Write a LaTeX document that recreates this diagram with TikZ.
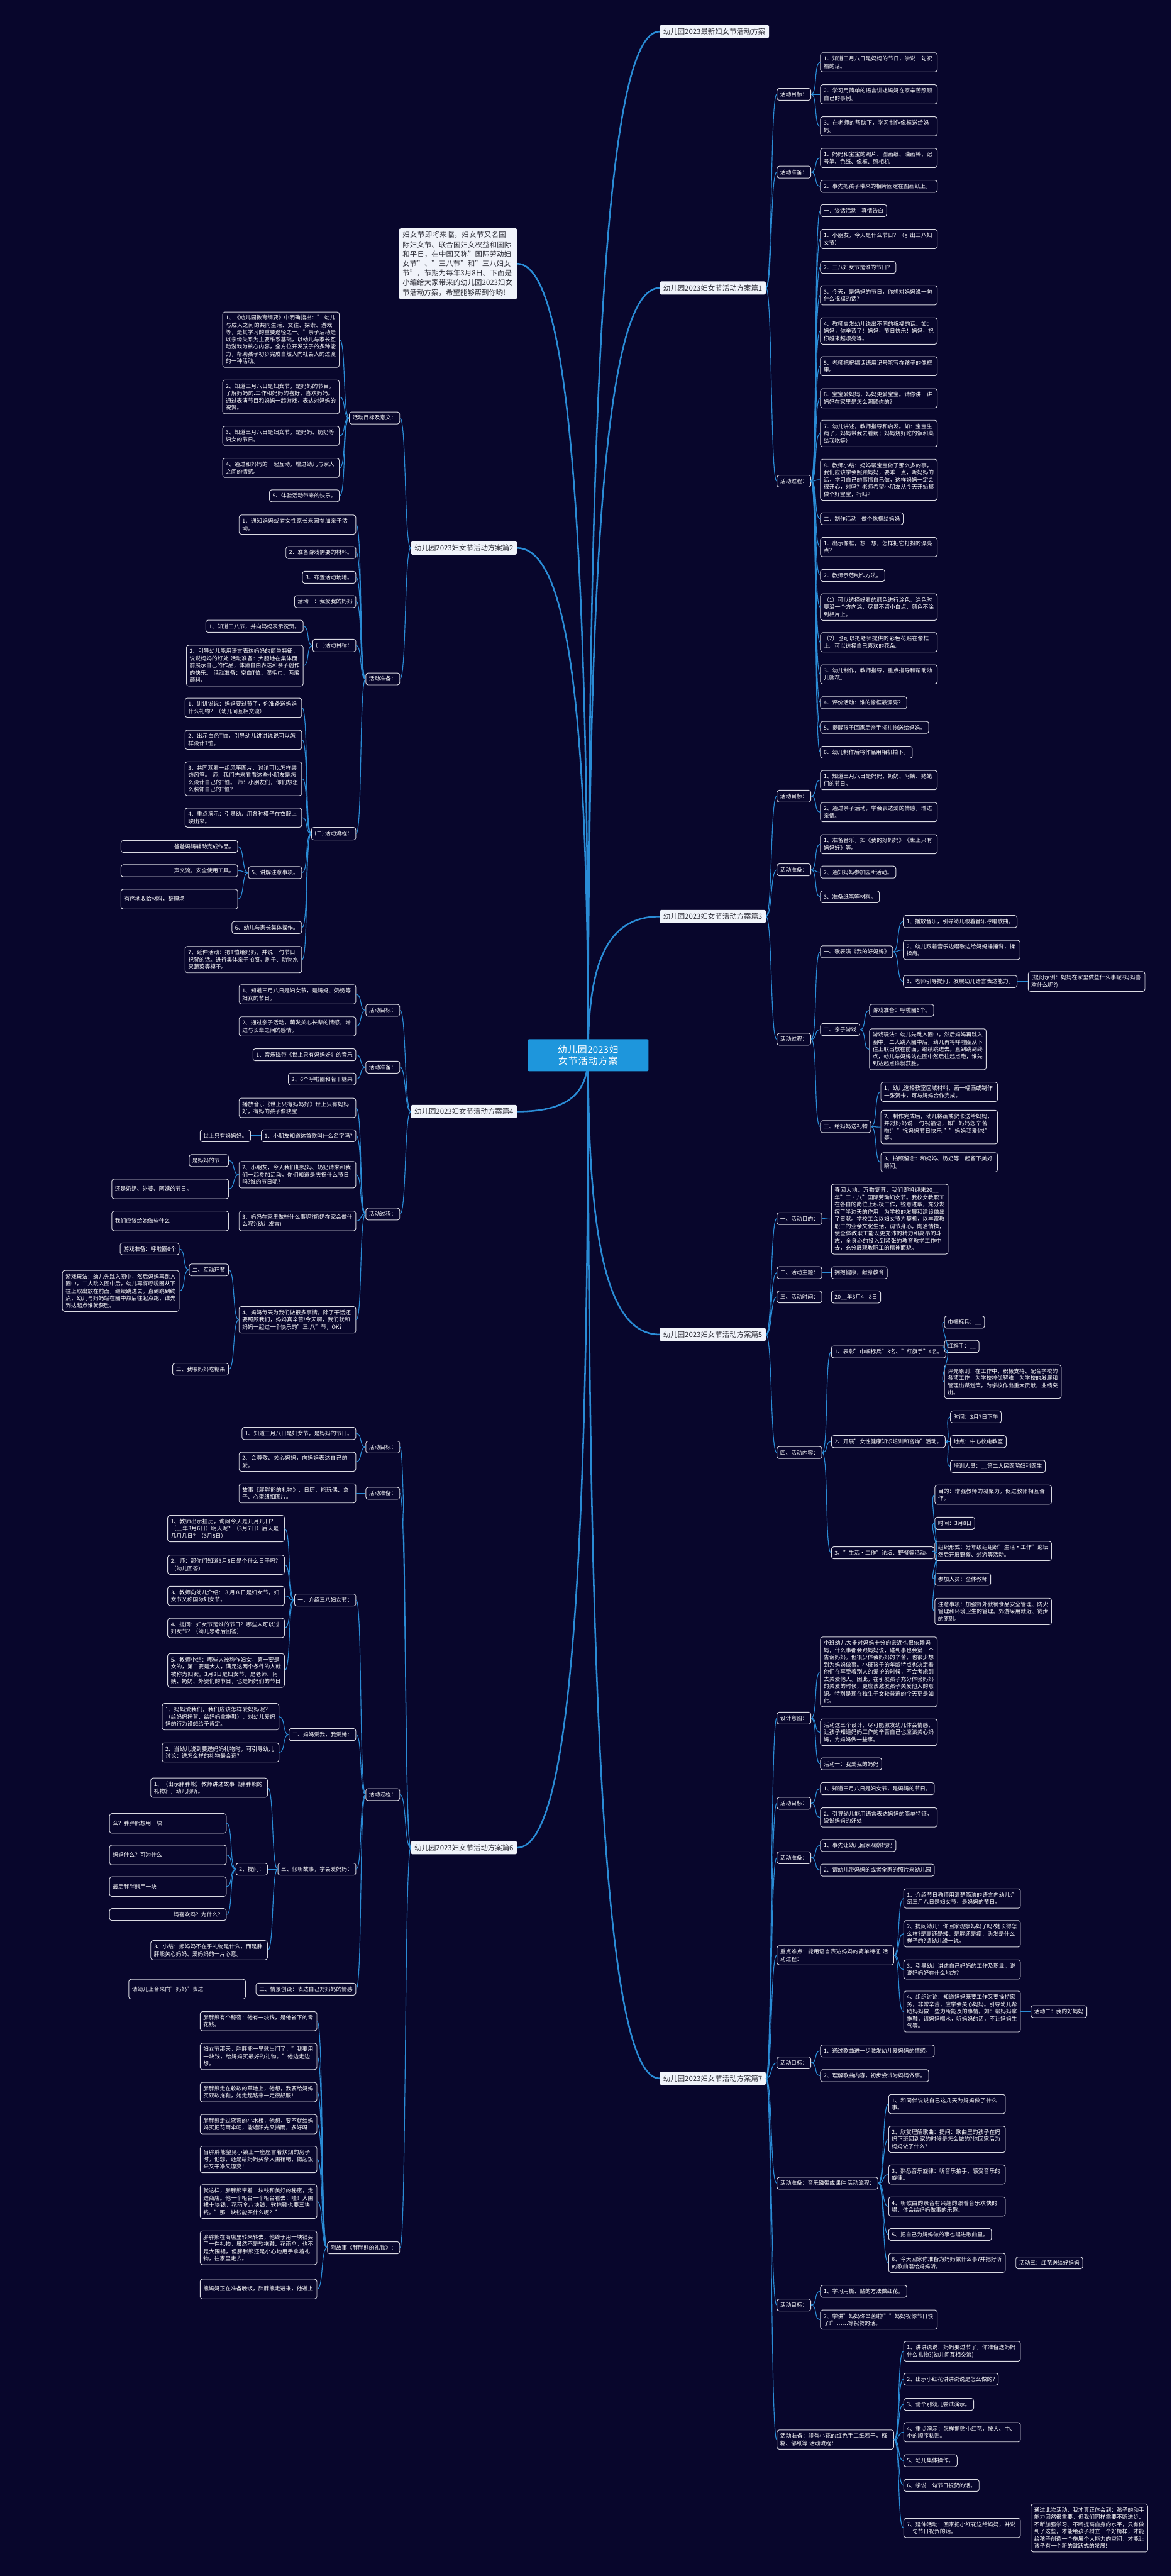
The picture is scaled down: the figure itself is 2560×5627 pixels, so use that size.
\documentclass[tikz,border=0pt]{standalone}
\usepackage{fontspec}
\setmainfont{Noto Sans CJK SC}
\XeTeXlinebreaklocale "zh"
\XeTeXlinebreakskip=0pt plus 1pt
\definecolor{bgnavy}{RGB}{8,6,44}
\definecolor{linkblue}{RGB}{42,140,214}
\definecolor{rootblue}{RGB}{30,150,220}
\definecolor{headfill}{RGB}{240,243,250}
\definecolor{headtext}{RGB}{45,45,55}
\definecolor{boxline}{RGB}{218,218,226}
\newcommand\leaffont{\fontsize{12}{15.8}\selectfont}
\newcommand\headfont{\fontsize{15.7}{20.9}\selectfont}
\newcommand\rootfont{\fontsize{20.5}{25}\selectfont}
\tikzset{
  tagbox/.style={draw=boxline, line width=1.3pt, rounded corners=5pt, fill=bgnavy,
    text=white, font=\leaffont, inner xsep=7pt, inner ysep=7.5pt, align=left},
  leafbox/.style={tagbox, text width=241pt},
  twoline/.style={minimum height=43pt},
  headbox/.style={fill=headfill, text=headtext, font=\headfont, rounded corners=4pt,
    inner xsep=8pt, inner ysep=7pt},
  rootbox/.style={fill=rootblue, text=white, font=\rootfont, rounded corners=3pt,
    text width=242pt, align=center, inner xsep=11pt, inner ysep=13pt},
  twig/.style={draw=linkblue, line width=1.6pt},
  trunk/.style={draw=linkblue, line width=3.5pt},
}
\newcommand\rlink[2]{\draw[twig] (#1.east) .. controls +(14,0) and +(-14,0) .. (#2.west);}
\newcommand\llink[2]{\draw[twig] (#1.west) .. controls +(-14,0) and +(14,0) .. (#2.east);}
\begin{document}
\begin{tikzpicture}[x=1pt,y=-1pt]
  \fill[bgnavy] (0,0) rectangle (2560,5627);
  \useasboundingbox (0,0) rectangle (2560,5627);

  % titles round the centre
  \coordinate (hub) at (1285,2305);
  \node[headbox, anchor=west] (pian0) at (1441,69) {幼儿园2023最新妇女节活动方案};
  \node[headbox, anchor=west] (pian1) at (1441,629) {幼儿园2023妇女节活动方案篇1};
  \node[headbox, anchor=west] (pian3) at (1441,2002) {幼儿园2023妇女节活动方案篇3};
  \node[headbox, anchor=west] (pian5) at (1441,2915) {幼儿园2023妇女节活动方案篇5};
  \node[headbox, anchor=west] (pian7) at (1441,4540) {幼儿园2023妇女节活动方案篇7};
  \node[headbox, anchor=east, text width=242pt, align=left] (intro) at (1130,576)
    {妇女节即将来临，妇女节又名国际妇女节、联合国妇女权益和国际和平日，在中国又称"国际劳动妇女节"、"三八节"和"三八妇女节"，节期为每年3月8日。下面是小编给大家带来的幼儿园2023妇女节活动方案，希望能够帮到你哟!};
  \node[headbox, anchor=east] (pian2) at (1130,1197) {幼儿园2023妇女节活动方案篇2};
  \node[headbox, anchor=east] (pian4) at (1130,2428) {幼儿园2023妇女节活动方案篇4};
  \node[headbox, anchor=east] (pian6) at (1130,4036) {幼儿园2023妇女节活动方案篇6};

  \draw[trunk] (hub) .. controls +(0,-1453) and +(-117,0) .. (pian0.west);
  \draw[trunk] (hub) .. controls +(0,-1089) and +(-117,0) .. (pian1.west);
  \draw[trunk] (hub) .. controls +(0,-197) and +(-117,0) .. (pian3.west);
  \draw[trunk] (hub) .. controls +(0,396) and +(-117,0) .. (pian5.west);
  \draw[trunk] (hub) .. controls +(0,1453) and +(-117,0) .. (pian7.west);
  \draw[trunk] (hub) .. controls +(0,-1124) and +(116,0) .. (intro.east);
  \draw[trunk] (hub) .. controls +(0,-720) and +(116,0) .. (pian2.east);
  \draw[trunk] (hub) .. controls +(0,80) and +(116,0) .. (pian4.east);
  \draw[trunk] (hub) .. controls +(0,1125) and +(116,0) .. (pian6.east);
  \node[rootbox] (root) at (hub) {幼儿园2023妇女节活动方案};

  % 篇1
  \node[tagbox, anchor=west] (p1mb) at (1697,206) {活动目标：};
  \node[leafbox, anchor=west] (p1mb1) at (1792,136) {1．知道三月八日是妈妈的节日，学说一句祝福的话。};
  \node[leafbox, anchor=west] (p1mb2) at (1792,206) {2．学习用简单的语言讲述妈妈在家辛苦照顾自己的事例。};
  \node[leafbox, anchor=west] (p1mb3) at (1792,276) {3．在老师的帮助下，学习制作像框送给妈妈。};
  \node[tagbox, anchor=west] (p1zb) at (1697,376) {活动准备：};
  \node[leafbox, anchor=west] (p1zb1) at (1792,345) {1．妈妈和宝宝的照片、图画纸、油画棒、记号笔、色纸、像框、照相机};
  \node[leafbox, anchor=west] (p1zb2) at (1792,407) {2．事先把孩子带来的相片固定在图画纸上。};
  \node[tagbox, anchor=west] (p1gc) at (1697,1051) {活动过程：};
  \node[tagbox, anchor=west] (p1gc1) at (1792,460) {一．谈话活动—真情告白};
  \node[leafbox, anchor=west] (p1gc2) at (1792,522) {1．小朋友，今天是什么节日？（引出三八妇女节）};
  \node[tagbox, anchor=west] (p1gc3) at (1792,584) {2．三八妇女节是谁的节日？};
  \node[leafbox, anchor=west] (p1gc4) at (1792,645) {3．今天，是妈妈的节日，你想对妈妈说一句什么祝福的话？};
  \node[leafbox, anchor=west] (p1gc5) at (1792,723) {4．教师启发幼儿说出不同的祝福的话。如：妈妈，你辛苦了！妈妈，节日快乐！妈妈，祝你越来越漂亮等。};
  \node[leafbox, anchor=west] (p1gc6) at (1792,800) {5．老师把祝福话语用记号笔写在孩子的像框里。};
  \node[leafbox, anchor=west] (p1gc7) at (1792,870) {6．宝宝爱妈妈，妈妈更爱宝宝。请你讲一讲妈妈在家里是怎么照顾你的？};
  \node[leafbox, anchor=west] (p1gc8) at (1792,947) {7．幼儿讲述，教师指导和启发。如：宝宝生病了，妈妈带我去看病；妈妈烧好吃的饭和菜给我吃等）};
  \node[leafbox, anchor=west] (p1gc9) at (1792,1048) {8．教师小结：妈妈帮宝宝做了那么多的事，我们应该学会照顾妈妈，要乖一点，听妈妈的话，学习自己的事情自己做，这样妈妈一定会很开心，对吗？老师希望小朋友从今天开始都做个好宝宝，行吗？};
  \node[tagbox, anchor=west] (p1gc10) at (1792,1133) {二．制作活动—做个像框给妈妈};
  \node[leafbox, anchor=west] (p1gc11) at (1792,1195) {1．出示像框，想一想，怎样把它打扮的漂亮点？};
  \node[tagbox, anchor=west] (p1gc12) at (1792,1257) {2．教师示范制作方法。};
  \node[leafbox, anchor=west] (p1gc13) at (1792,1326) {（1）可以选择好看的颜色进行涂色。涂色时要沿一个方向涂，尽量不留小白点，颜色不涂到相片上。};
  \node[leafbox, anchor=west] (p1gc14) at (1792,1403) {（2）也可以把老师提供的彩色花贴在像框上。可以选择自己喜欢的花朵。};
  \node[leafbox, anchor=west] (p1gc15) at (1792,1473) {3．幼儿制作，教师指导，重点指导和帮助幼儿贴花。};
  \node[tagbox, anchor=west] (p1gc16) at (1792,1535) {4．评价活动：谁的像框最漂亮？};
  \node[tagbox, anchor=west] (p1gc17) at (1792,1589) {5．提醒孩子回家后亲手将礼物送给妈妈。};
  \node[tagbox, anchor=west] (p1gc18) at (1792,1643) {6．幼儿制作后将作品用相机拍下。};
  \foreach \n in {p1mb,p1zb,p1gc} {\rlink{pian1}{\n}}
  \foreach \i in {1,2,3} {\rlink{p1mb}{p1mb\i}}
  \foreach \i in {1,2} {\rlink{p1zb}{p1zb\i}}
  \foreach \i in {1,...,18} {\rlink{p1gc}{p1gc\i}}

  % 篇3
  \node[tagbox, anchor=west] (p3mb) at (1697,1739) {活动目标：};
  \node[leafbox, anchor=west] (p3mb1) at (1792,1704) {1、知道三月八日是妈妈、奶奶、阿姨、姥姥们的节日。};
  \node[leafbox, anchor=west] (p3mb2) at (1792,1774) {2、通过亲子活动，学会表达爱的情感，增进亲情。};
  \node[tagbox, anchor=west] (p3zb) at (1697,1900) {活动准备：};
  \node[leafbox, anchor=west] (p3zb1) at (1792,1844) {1、准备音乐，如《我的好妈妈》《世上只有妈妈好》等。};
  \node[tagbox, anchor=west] (p3zb2) at (1792,1905) {2、通知妈妈参加园所活动。};
  \node[tagbox, anchor=west] (p3zb3) at (1792,1959) {3、准备纸笔等材料。};
  \node[tagbox, anchor=west] (p3gc) at (1697,2270) {活动过程：};
  \node[tagbox, anchor=west] (p3ge) at (1792,2079) {一、歌表演《我的好妈妈》};
  \node[tagbox, anchor=west] (p3ge1) at (1973,2013) {1、播放音乐，引导幼儿跟着音乐哼唱歌曲。};
  \node[leafbox, anchor=west] (p3ge2) at (1973,2075) {2、幼儿跟着音乐边唱歌边给妈妈捶捶背，揉揉肩。};
  \node[tagbox, anchor=west] (p3ge3) at (1973,2144) {3、老师引导提问，发展幼儿语言表达能力。};
  \node[leafbox, anchor=west] (p3ge4) at (2246,2144) {(提问示例：妈妈在家里做些什么事呢?妈妈喜欢什么呢?)};
  \node[tagbox, anchor=west] (p3yx) at (1792,2249) {二、亲子游戏};
  \node[tagbox, anchor=west] (p3yx1) at (1899,2207) {游戏准备：呼啦圈6个。};
  \node[leafbox, anchor=west] (p3yx2) at (1899,2292) {游戏玩法：幼儿先跳入圈中，然后妈妈再跳入圈中，二人跳入圈中后，幼儿再将呼啦圈从下往上取出放在前面，继续跳进去。直到跳到终点，幼儿与妈妈站在圈中然后往起点跑，谁先到达起点谁就获胜。};
  \node[tagbox, anchor=west] (p3lw) at (1792,2461) {三、给妈妈送礼物};
  \node[leafbox, anchor=west] (p3lw1) at (1924,2385) {1、幼儿选择教室区域材料，画一幅画或制作一张贺卡，可与妈妈合作完成。};
  \node[leafbox, anchor=west] (p3lw2) at (1924,2462) {2、制作完成后，幼儿将画或贺卡送给妈妈，并对妈妈说一句祝福语，如"妈妈您辛苦啦!""祝妈妈节日快乐!""妈妈我爱你!"等。};
  \node[leafbox, anchor=west] (p3lw3) at (1924,2539) {3、拍照留念：和妈妈、奶奶等一起留下美好瞬间。};
  \foreach \n in {p3mb,p3zb,p3gc} {\rlink{pian3}{\n}}
  \foreach \i in {1,2} {\rlink{p3mb}{p3mb\i}}
  \foreach \i in {1,2,3} {\rlink{p3zb}{p3zb\i}}
  \foreach \n in {p3ge,p3yx,p3lw} {\rlink{p3gc}{\n}}
  \foreach \i in {1,2,3} {\rlink{p3ge}{p3ge\i}}
  \rlink{p3ge3}{p3ge4}
  \foreach \i in {1,2} {\rlink{p3yx}{p3yx\i}}
  \foreach \i in {1,2,3} {\rlink{p3lw}{p3lw\i}}

  % 篇5
  \node[tagbox, anchor=west] (p5md) at (1697,2662) {一、活动目的：};
  \node[leafbox, anchor=west] (p5md1) at (1816,2663) {春回大地，万物复苏，我们即将迎来20\_\_年"三·八"国际劳动妇女节。我校女教职工在各自的岗位上积极工作，锐意进取，充分发挥了半边天的作用，为学校的发展和建设做出了贡献。学校工会以妇女节为契机，以丰富教职工的业余文化生活，调节身心，陶冶情操，使全体教职工能以更充沛的精力和高昂的斗志，全身心的投入到紧张的教育教学工作中去，充分展现教职工的精神面貌。};
  \node[tagbox, anchor=west] (p5zt) at (1697,2780) {二、活动主题：};
  \node[tagbox, anchor=west] (p5zt1) at (1816,2780) {拥抱健康，献身教育};
  \node[tagbox, anchor=west] (p5sj) at (1697,2833) {三、活动时间：};
  \node[tagbox, anchor=west] (p5sj1) at (1816,2833) {20\_\_年3月4—8日};
  \node[tagbox, anchor=west] (p5nr) at (1697,3173) {四、活动内容：};
  \node[tagbox, anchor=west] (p5bz) at (1816,2953) {1、表彰"巾帼标兵"3名、"红旗手"4名。};
  \node[tagbox, anchor=west] (p5bz1) at (2063,2888) {巾帼标兵：\_\_};
  \node[tagbox, anchor=west] (p5bz2) at (2063,2941) {红旗手：\_\_};
  \node[leafbox, anchor=west] (p5bz3) at (2063,3018) {评先原则：在工作中，积极支持、配合学校的各项工作，为学校排优解难，为学校的发展和管理出谋划策，为学校作出重大贡献，业绩突出。};
  \node[tagbox, anchor=west] (p5px) at (1816,3149) {2、开展"女性健康知识培训和咨询"活动。};
  \node[tagbox, anchor=west] (p5px1) at (2076,3095) {时间：3月7日下午};
  \node[tagbox, anchor=west] (p5px2) at (2076,3149) {地点：中心校电教室};
  \node[tagbox, anchor=west] (p5px3) at (2076,3203) {培训人员：\_\_第二人民医院妇科医生};
  \node[tagbox, anchor=west] (p5lt) at (1816,3392) {3、"生活·工作"论坛、野餐等活动。};
  \node[leafbox, anchor=west] (p5lt1) at (2042,3265) {目的：增强教师的凝聚力，促进教师相互合作。};
  \node[tagbox, anchor=west] (p5lt2) at (2042,3327) {时间：3月8日};
  \node[leafbox, anchor=west] (p5lt3) at (2042,3388) {组织形式：分年级组组织"生活·工作"论坛然后开展野餐、郊游等活动。};
  \node[tagbox, anchor=west] (p5lt4) at (2042,3450) {参加人员：全体教师};
  \node[leafbox, anchor=west] (p5lt5) at (2042,3520) {注意事项：加强野外就餐食品安全管理、防火管理和环境卫生的管理。郊游采用就近、徒步的原则。};
  \foreach \n in {p5md,p5zt,p5sj,p5nr} {\rlink{pian5}{\n}}
  \rlink{p5md}{p5md1} \rlink{p5zt}{p5zt1} \rlink{p5sj}{p5sj1}
  \foreach \n in {p5bz,p5px,p5lt} {\rlink{p5nr}{\n}}
  \foreach \i in {1,2,3} {\rlink{p5bz}{p5bz\i} \rlink{p5px}{p5px\i}}
  \foreach \i in {1,...,5} {\rlink{p5lt}{p5lt\i}}

  % 篇7
  \node[tagbox, anchor=west] (p7yt) at (1697,3753) {设计意图：};
  \node[leafbox, anchor=west] (p7yt1) at (1792,3652) {小班幼儿大多对妈妈十分的亲近也很依赖妈妈，什么事都会跟妈妈说，碰到事也会第一个告诉妈妈。但很少体会妈妈的辛苦，也很少想到为妈妈做事。小班孩子的年龄特点也决定着他们在享受着别人的爱护的时候，不会考虑到去关爱他人。因此，在引发孩子充分体验妈妈的关爱的时候，更应该激发孩子关爱他人的意识。特别是现在独生子女较普遍的今天更是如此。};
  \node[leafbox, anchor=west] (p7yt2) at (1792,3784) {活动这三个设计，尽可能激发幼儿体会情感，让孩子知道妈妈工作的辛苦自己也应该关心妈妈，为妈妈做一些事。};
  \node[tagbox, anchor=west] (p7yt3) at (1792,3853) {活动一：我爱我的妈妈};
  \node[tagbox, anchor=west] (p7ma) at (1697,3939) {活动目标：};
  \node[tagbox, anchor=west] (p7ma1) at (1792,3907) {1、知道三月八日是妇女节，是妈妈的节日。};
  \node[leafbox, anchor=west] (p7ma2) at (1792,3970) {2、引导幼儿能用语言表达妈妈的简单特征，说说妈妈的好处};
  \node[tagbox, anchor=west] (p7za) at (1697,4058) {活动准备：};
  \node[tagbox, anchor=west] (p7za1) at (1792,4031) {1、事先让幼儿回家观察妈妈};
  \node[tagbox, anchor=west] (p7za2) at (1792,4085) {2、请幼儿带妈妈的或者全家的照片来幼儿园};
  \node[leafbox, anchor=west] (p7zd) at (1697,4271) {重点难点：能用语言表达妈妈的简单特征 活动过程：};
  \node[leafbox, anchor=west] (p7zd1) at (1974,4147) {1、介绍节日教师用清楚简洁的语言向幼儿介绍三月八日是妇女节，是妈妈的节日。};
  \node[leafbox, anchor=west] (p7zd2) at (1974,4224) {2、提问幼儿：你回家观察妈妈了吗?她长得怎么样?是高还是矮，是胖还是瘦，头发是什么样子的?请幼儿说一说。};
  \node[leafbox, anchor=west] (p7zd3) at (1974,4302) {3、引导幼儿讲述自己妈妈的工作及职业。说说妈妈好在什么地方?};
  \node[leafbox, anchor=west] (p7zd4) at (1974,4394) {4、组织讨论：知道妈妈既要工作又要操持家务，非常辛苦，应学会关心妈妈。引导幼儿帮助妈妈做一些力所能及的事情。如：帮妈妈拿拖鞋，请妈妈喝水，听妈妈的话，不让妈妈生气等。};
  \node[tagbox, anchor=west] (p7zd5) at (2252,4394) {活动二：我的好妈妈};
  \node[tagbox, anchor=west] (p7mb) at (1697,4506) {活动目标：};
  \node[tagbox, anchor=west] (p7mb1) at (1792,4480) {1、通过歌曲进一步激发幼儿爱妈妈的情感。};
  \node[tagbox, anchor=west] (p7mb2) at (1792,4534) {2、理解歌曲内容，初步尝试为妈妈做事。};
  \node[tagbox, anchor=west] (p7lc) at (1697,4769) {活动准备：音乐磁带或课件 活动流程：};
  \node[leafbox, anchor=west] (p7lc1) at (1941,4596) {1、和同伴说说自己这几天为妈妈做了什么事。};
  \node[leafbox, anchor=west] (p7lc2) at (1941,4673) {2、欣赏理解歌曲：提问：歌曲里的孩子在妈妈下班回到家的时候是怎么做的?你回家后为妈妈做了什么?};
  \node[leafbox, anchor=west] (p7lc3) at (1941,4750) {3、熟悉音乐旋律：听音乐拍手，感受音乐的旋律。};
  \node[leafbox, anchor=west] (p7lc4) at (1941,4820) {4、听歌曲的录音有兴趣的跟着音乐欢快的唱，体会给妈妈做事的乐趣。};
  \node[tagbox, anchor=west] (p7lc5) at (1941,4881) {5、把自己为妈妈做的事也唱进歌曲里。};
  \node[leafbox, anchor=west] (p7lc6) at (1941,4943) {6、今天回家你准备为妈妈做什么事?并把好听的歌曲唱给妈妈听。};
  \node[tagbox, anchor=west] (p7lc7) at (2219,4943) {活动三：红花送给好妈妈};
  \node[tagbox, anchor=west] (p7mc) at (1697,5035) {活动目标：};
  \node[tagbox, anchor=west] (p7mc1) at (1792,5005) {1、学习用撕、贴的方法做红花。};
  \node[leafbox, anchor=west] (p7mc2) at (1792,5067) {2、学讲"妈妈你辛苦啦!""妈妈祝你节日快了!"……等祝贺的话。};
  \node[leafbox, anchor=west] (p7hh) at (1697,5329) {活动准备：印有小花的红色手工纸若干，糨糊、邹纸等 活动流程：};
  \node[leafbox, anchor=west] (p7hh1) at (1974,5136) {1、讲讲说说：妈妈要过节了，你准备送妈妈什么礼物?(幼儿间互相交流)};
  \node[tagbox, anchor=west] (p7hh2) at (1974,5197) {2、出示小红花讲讲说说是怎么做的?};
  \node[tagbox, anchor=west] (p7hh3) at (1974,5252) {3、请个别幼儿尝试演示。};
  \node[leafbox, anchor=west] (p7hh4) at (1974,5313) {4、重点演示：怎样撕贴小红花，按大、中、小的顺序粘贴。};
  \node[tagbox, anchor=west] (p7hh5) at (1974,5375) {5、幼儿集体操作。};
  \node[tagbox, anchor=west] (p7hh6) at (1974,5429) {6、学说一句节日祝贺的话。};
  \node[leafbox, anchor=west] (p7hh7) at (1974,5522) {7、延伸活动：回家把小红花送给妈妈，并说一句节日祝贺的话。};
  \node[leafbox, anchor=west] (p7hh8) at (2252,5522) {通过此次活动，我才真正体会到：孩子的动手能力固然很重要，但我们同样需要不断进步、不断加强学习、不断提高自身的水平，只有做到了这些，才能给孩子树立一个好榜样，才能给孩子创造一个施展个人能力的空间，才能让孩子有一个新的跳跃式的发展!};
  \foreach \n in {p7yt,p7ma,p7za,p7zd,p7mb,p7lc,p7mc,p7hh} {\rlink{pian7}{\n}}
  \foreach \i in {1,2,3} {\rlink{p7yt}{p7yt\i}}
  \foreach \i in {1,2} {\rlink{p7ma}{p7ma\i} \rlink{p7za}{p7za\i} \rlink{p7mb}{p7mb\i} \rlink{p7mc}{p7mc\i}}
  \foreach \i in {1,...,4} {\rlink{p7zd}{p7zd\i}}
  \rlink{p7zd4}{p7zd5}
  \foreach \i in {1,...,6} {\rlink{p7lc}{p7lc\i}}
  \rlink{p7lc6}{p7lc7}
  \foreach \i in {1,...,7} {\rlink{p7hh}{p7hh\i}}
  \rlink{p7hh7}{p7hh8}

  % 篇2
  \node[tagbox, anchor=east] (p2yy) at (874,913) {活动目标及意义：};
  \node[leafbox, anchor=east] (p2yy1) at (742,742) {1、《幼儿园教育纲要》中明确指出：" 幼儿与成人之间的共同生活、交往、探索、游戏等，是其学习的重要途径之一。"亲子活动是以亲缘关系为主要维系基础，以幼儿与家长互动游戏为核心内容，全方位开发孩子的多种能力，帮助孩子初步完成自然人向社会人的过渡的一种活动。};
  \node[leafbox, anchor=east] (p2yy2) at (742,867) {2、知道三月八日是妇女节，是妈妈的节目。了解妈妈的.工作和妈妈的喜好，喜欢妈妈。通过表演节目和妈妈一起游戏，表达对妈妈的祝贺。};
  \node[leafbox, anchor=east] (p2yy3) at (742,952) {3、知道三月八日是妇女节，是妈妈、奶奶等妇女的节日。};
  \node[leafbox, anchor=east] (p2yy4) at (742,1022) {4、通过和妈妈的一起互动，增进幼儿与家人之间的情感。};
  \node[tagbox, anchor=east] (p2yy5) at (742,1083) {5、体验活动带来的快乐。};
  \node[tagbox, anchor=east] (p2zb) at (874,1483) {活动准备：};
  \node[leafbox, anchor=east] (p2zb1) at (778,1146) {1．通知妈妈或者女性家长来园参加亲子活动。};
  \node[tagbox, anchor=east] (p2zb2) at (778,1207) {2．准备游戏需要的材料。};
  \node[tagbox, anchor=east] (p2zb3) at (778,1261) {3．布置活动场地。};
  \node[tagbox, anchor=east] (p2zb4) at (778,1314) {活动一：我爱我的妈妈};
  \node[tagbox, anchor=east] (p2mb) at (778,1410) {(一)活动目标：};
  \node[tagbox, anchor=east] (p2mb1) at (663,1368) {1、知道三八节，并向妈妈表示祝贺。};
  \node[leafbox, anchor=east] (p2mb2) at (663,1454) {2、引导幼儿能用语言表达妈妈的简单特征，说说妈妈的好处 活动准备：大胆地在集体面前展示自己的作品，体验自由表达和亲子创作的快乐。 活动准备：空白T恤、湿毛巾、丙烯颜料、};
  \node[tagbox, anchor=east] (p2lc) at (778,1821) {(二) 活动流程：};
  \node[leafbox, anchor=east] (p2lc1) at (660,1546) {1、讲讲说说：妈妈要过节了，你准备送妈妈什么礼物？（幼儿间互相交流）};
  \node[leafbox, anchor=east] (p2lc2) at (660,1616) {2、出示白色T恤，引导幼儿讲讲说说可以怎样设计T恤。};
  \node[leafbox, anchor=east] (p2lc3) at (660,1701) {3、共同观看一组风筝图片，讨论可以怎样装饰风筝。 师：我们先来看看这些小朋友是怎么设计自己的T恤。 师：小朋友们，你们想怎么装饰自己的T恤？};
  \node[leafbox, anchor=east] (p2lc4) at (660,1786) {4、重点演示：引导幼儿用各种模子在衣服上映出来。};
  \node[tagbox, anchor=east] (p2lc5) at (660,1906) {5、讲解注意事项。};
  \node[tagbox, anchor=east] (p2lc6) at (660,2026) {6、幼儿与家长集体操作。};
  \node[leafbox, anchor=east] (p2lc7) at (660,2096) {7、延伸活动：把T恤给妈妈，并说一句节日祝贺的话。进行集体亲子拍照。刷子、动物水果蔬菜等模子。};
  \node[leafbox, anchor=east, align=flush right] (p2zy1) at (520,1849) {爸爸妈妈辅助完成作品。};
  \node[leafbox, anchor=east, align=flush right] (p2zy2) at (520,1902) {声交流，安全使用工具。};
  \node[leafbox, twoline, anchor=east] (p2zy3) at (520,1964) {有序地收拾材料，整理场};
  \foreach \n in {p2yy,p2zb} {\llink{pian2}{\n}}
  \foreach \i in {1,...,5} {\llink{p2yy}{p2yy\i}}
  \foreach \n in {p2zb1,p2zb2,p2zb3,p2zb4,p2mb,p2lc} {\llink{p2zb}{\n}}
  \foreach \i in {1,2} {\llink{p2mb}{p2mb\i}}
  \foreach \i in {1,...,7} {\llink{p2lc}{p2lc\i}}
  \foreach \i in {1,2,3} {\llink{p2lc5}{p2zy\i}}

  % 篇4
  \node[tagbox, anchor=east] (p4mb) at (874,2207) {活动目标：};
  \node[leafbox, anchor=east] (p4mb1) at (778,2172) {1、知道三月八日是妇女节，是妈妈、奶奶等妇女的节日。};
  \node[leafbox, anchor=east] (p4mb2) at (778,2242) {2、通过亲子活动，萌发关心长辈的情感，增进与长辈之间的感情。};
  \node[tagbox, anchor=east] (p4zb) at (874,2331) {活动准备：};
  \node[tagbox, anchor=east] (p4zb1) at (778,2304) {1、音乐磁带《世上只有妈妈好》的音乐};
  \node[tagbox, anchor=east] (p4zb2) at (778,2357) {2、6个呼啦圈和若干糖果};
  \node[tagbox, anchor=east] (p4gc) at (874,2652) {活动过程：};
  \node[leafbox, anchor=east] (p4gc1) at (778,2420) {播放音乐《世上只有妈妈好》世上只有妈妈好，有妈的孩子像块宝};
  \node[tagbox, anchor=east] (p4gc2) at (778,2481) {1、小朋友知道这首歌叫什么名字吗?};
  \node[tagbox, anchor=east] (p4gc2a) at (548,2481) {世上只有妈妈好。};
  \node[leafbox, anchor=east] (p4gc3) at (778,2566) {2、小朋友，今天我们把妈妈、奶奶请来和我们一起参加活动，你们知道是庆祝什么节日吗?谁的节日呢?};
  \node[tagbox, anchor=east] (p4gc3a) at (500,2535) {是妈妈的节日};
  \node[leafbox, twoline, anchor=east] (p4gc3b) at (500,2597) {还是奶奶、外婆、阿姨的节日。};
  \node[leafbox, anchor=east] (p4gc4) at (778,2667) {3、妈妈在家里做些什么事呢?奶奶在家会做什么呢?(幼儿发言)};
  \node[leafbox, twoline, anchor=east] (p4gc4a) at (500,2667) {我们应该给她做些什么};
  \node[leafbox, anchor=east] (p4gc5) at (778,2883) {4、妈妈每天为我们做很多事情，除了干活还要照顾我们，妈妈真辛苦!今天啊，我们就和妈妈一起过一个快乐的"三.八"节，OK?};
  \node[tagbox, anchor=east] (p4hd) at (500,2774) {二、互动环节};
  \node[tagbox, anchor=east] (p4hd1) at (392,2728) {游戏准备：呼啦圈6个};
  \node[leafbox, anchor=east] (p4hd2) at (392,2820) {游戏玩法：幼儿先跳入圈中，然后妈妈再跳入圈中，二人跳入圈中后，幼儿再将呼啦圈从下往上取出放在前面，继续跳进去。直到跳到终点，幼儿与妈妈站在圈中然后往起点跑，谁先到达起点谁就获胜。};
  \node[tagbox, anchor=east] (p4tg) at (500,2991) {三、我喂妈妈吃糖果};
  \foreach \n in {p4mb,p4zb,p4gc} {\llink{pian4}{\n}}
  \foreach \i in {1,2} {\llink{p4mb}{p4mb\i} \llink{p4zb}{p4zb\i} \llink{p4hd}{p4hd\i}}
  \foreach \i in {1,...,5} {\llink{p4gc}{p4gc\i}}
  \llink{p4gc2}{p4gc2a} \llink{p4gc3}{p4gc3a} \llink{p4gc3}{p4gc3b}
  \llink{p4gc4}{p4gc4a} \llink{p4gc5}{p4hd} \llink{p4gc5}{p4tg}

  % 篇6
  \node[tagbox, anchor=east] (p6mb) at (874,3161) {活动目标：};
  \node[tagbox, anchor=east] (p6mb1) at (778,3131) {1、知道三月八日是妇女节，是妈妈的节日。};
  \node[leafbox, anchor=east] (p6mb2) at (778,3193) {2、会尊敬、关心妈妈，向妈妈表达自己的爱。};
  \node[tagbox, anchor=east] (p6zb) at (874,3262) {活动准备：};
  \node[leafbox, anchor=east] (p6zb1) at (778,3262) {故事《胖胖熊的礼物》、日历、熊玩偶、盒子、心型纽扣图片。};
  \node[tagbox, anchor=east] (p6gc) at (874,3920) {活动过程：};
  \node[tagbox, anchor=east] (p6js) at (778,3495) {一、介绍三八妇女节：};
  \node[leafbox, anchor=east] (p6js1) at (622,3339) {1、教师出示挂历，询问今天是几月几日？（\_\_年3月6日）明天呢？（3月7日）后天是几月几日？（3月8日）};
  \node[leafbox, anchor=east] (p6js2) at (622,3418) {2、师：那你们知道3月8日是个什么日子吗?（幼儿回答）};
  \node[leafbox, anchor=east] (p6js3) at (622,3486) {3、教师向幼儿介绍：３月８日是妇女节，妇女节又称国际妇女节。};
  \node[leafbox, anchor=east] (p6js4) at (622,3556) {4、提问：妇女节是谁的节日？哪些人可以过妇女节？（幼儿思考后回答）};
  \node[leafbox, anchor=east] (p6js5) at (622,3649) {5、教师小结：哪些人被称作妇女，第一要是女的，第二要是大人，满足这两个条件的人就被称为妇女。3月8日是妇女节，是老师、阿姨、奶奶、外婆们的节日，也是妈妈们的节日};
  \node[tagbox, anchor=east] (p6ai) at (778,3789) {二、妈妈爱我，我爱她：};
  \node[leafbox, anchor=east] (p6ai1) at (610,3750) {1、妈妈爱我们，我们应该怎样爱妈妈呢？（给妈妈捶背、给妈妈拿拖鞋），对幼儿爱妈妈的行为设想给予肯定。};
  \node[leafbox, anchor=east] (p6ai2) at (610,3828) {2、当幼儿说到要送妈妈礼物时，可引导幼儿讨论：送怎么样的礼物最合适?};
  \node[tagbox, anchor=east] (p6gs) at (778,4083) {三、倾听故事，学会爱妈妈：};
  \node[leafbox, anchor=east] (p6gs1) at (585,3905) {1、（出示胖胖熊）教师讲述故事《胖胖熊的礼物》，幼儿倾听。};
  \node[tagbox, anchor=east] (p6gs2) at (585,4083) {2、提问：};
  \node[leafbox, anchor=east] (p6gs3) at (585,4260) {3、小结：熊妈妈不在乎礼物是什么，而是胖胖熊关心妈妈、爱妈妈的一片心意。};
  \node[leafbox, twoline, anchor=east] (p6tw1) at (495,3983) {么？胖胖熊想用一块};
  \node[leafbox, twoline, anchor=east] (p6tw2) at (495,4052) {妈妈什么？可为什么};
  \node[leafbox, twoline, anchor=east] (p6tw3) at (495,4121) {最后胖胖熊用一块};
  \node[leafbox, anchor=east, align=flush right] (p6tw4) at (495,4182) {妈喜欢吗？为什么？};
  \node[tagbox, anchor=east] (p6qj) at (778,4345) {三、情景创设：表达自己对妈妈的情感};
  \node[leafbox, twoline, anchor=east] (p6qj1) at (537,4345) {请幼儿上台来向"妈妈"表达一};
  \node[tagbox, anchor=east] (p6fu) at (874,4910) {附故事《胖胖熊的礼物》：};
  \node[leafbox, anchor=east] (p6fu1) at (693,4415) {胖胖熊有个秘密：他有一块钱，是他省下的零花钱。};
  \node[leafbox, anchor=east] (p6fu2) at (693,4492) {妇女节那天，胖胖熊一早就出门了，"我要用一块钱，给妈妈买最好的礼物。"他边走边想。};
  \node[leafbox, anchor=east] (p6fu3) at (693,4570) {胖胖熊走在软软的草地上，他想，我要给妈妈买双软拖鞋，她走起路来一定很舒服！};
  \node[leafbox, anchor=east] (p6fu4) at (693,4640) {胖胖熊走过弯弯的小木桥，他想，要不就给妈妈买把花雨伞吧，能遮阳光又挡雨，多好呀！};
  \node[leafbox, anchor=east] (p6fu5) at (693,4717) {当胖胖熊望见小镇上一座座冒着炊烟的房子时，他想，还是给妈妈买条大围裙吧，做起饭来又干净又漂亮！};
  \node[leafbox, anchor=east] (p6fu6) at (693,4809) {就这样，胖胖熊带着一块钱和美好的秘密，走进商店。他一个柜台一个柜台看去：哇！大围裙十块钱，花雨伞八块钱，软拖鞋也要三块钱。"那一块钱能买什么呢？"};
  \node[leafbox, anchor=east] (p6fu7) at (693,4910) {胖胖熊在商店里转来转去，他终于用一块钱买了一件礼物，虽然不是软拖鞋、花雨伞，也不是大围裙，但胖胖熊还是小心地用手拿着礼物，往家里走去。};
  \node[leafbox, twoline, anchor=east] (p6fu8) at (693,5000) {熊妈妈正在准备晚饭，胖胖熊走进来，他递上};
  \foreach \n in {p6mb,p6zb,p6gc,p6fu} {\llink{pian6}{\n}}
  \foreach \i in {1,2} {\llink{p6mb}{p6mb\i}}
  \llink{p6zb}{p6zb1}
  \foreach \n in {p6js,p6ai,p6gs,p6qj} {\llink{p6gc}{\n}}
  \foreach \i in {1,...,5} {\llink{p6js}{p6js\i}}
  \foreach \i in {1,2} {\llink{p6ai}{p6ai\i}}
  \foreach \i in {1,2,3} {\llink{p6gs}{p6gs\i}}
  \foreach \i in {1,...,4} {\llink{p6gs2}{p6tw\i}}
  \llink{p6qj}{p6qj1}
  \foreach \i in {1,...,8} {\llink{p6fu}{p6fu\i}}
\end{tikzpicture}
\end{document}
